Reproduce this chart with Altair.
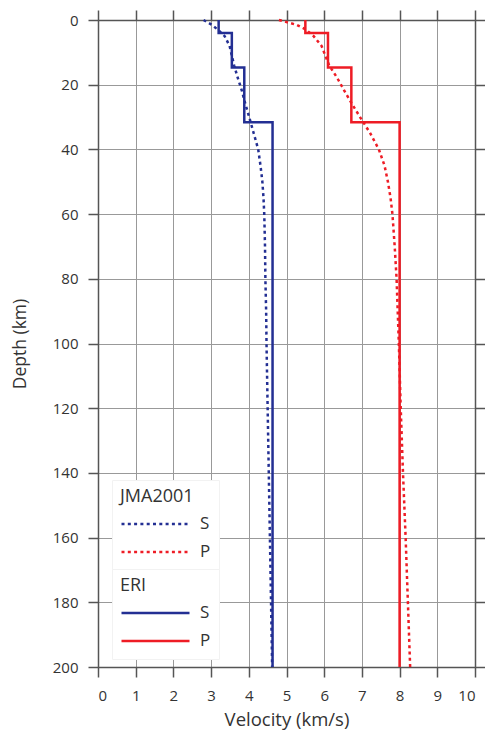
import altair as alt
import pandas as pd

# ---- data ----
jma_depth = [0, 1.5, 3, 5, 8, 11, 14, 18, 22, 26, 30, 35, 40, 45, 50, 55, 60,
             70, 80, 90, 100, 120, 140, 160, 180, 200]
jma_vs = [2.80, 3.02, 3.18, 3.36, 3.49, 3.55, 3.61, 3.71, 3.82, 3.91, 4.01, 4.13,
          4.25, 4.31, 4.36, 4.39, 4.41, 4.43, 4.44, 4.46, 4.47, 4.50, 4.53, 4.56,
          4.59, 4.62]
jma_vp = [4.80, 5.27, 5.52, 5.72, 5.93, 6.03, 6.13, 6.35, 6.54, 6.74, 6.95, 7.22,
          7.45, 7.60, 7.69, 7.76, 7.81, 7.87, 7.92, 7.95, 7.98, 8.03, 8.09, 8.16,
          8.22, 8.28]

eri_bounds = [0, 4, 14.7, 31.6, 200]
eri_vs = [3.2, 3.55, 3.88, 4.63]
eri_vp = [5.5, 6.1, 6.72, 8.0]

wave_order = ["S", "P"]
colors = ["#232f93", "#ee1c25"]

x_ticks = list(range(0, 11))
y_ticks = list(range(0, 201, 20))

# ---- tables ----
jma_rows = []
for w, vals in (("S", jma_vs), ("P", jma_vp)):
    for i, (d, v) in enumerate(zip(jma_depth, vals)):
        jma_rows.append({"wave": w, "depth": d, "velocity": v, "idx": i})
jma = pd.DataFrame(jma_rows)

eri_rows = []
for w, vals in (("S", eri_vs), ("P", eri_vp)):
    k = 0
    for j, v in enumerate(vals):
        for d in (eri_bounds[j], eri_bounds[j + 1]):
            eri_rows.append({"wave": w, "depth": d, "velocity": v, "idx": k})
            k += 1
eri = pd.DataFrame(eri_rows)

FONT = "Open Sans"
AX = dict(domainColor="#555", domainWidth=1.5, tickColor="#555", tickWidth=1.5,
          tickSize=10, labelFont=FONT, labelFontSize=15, labelColor="#333",
          titleFont=FONT, titleFontWeight="normal", titleColor="#333")

xscale = alt.Scale(domain=[0, 10], nice=False, zero=False)
yscale = alt.Scale(domain=[0, 200], reverse=True, nice=False)

def legend(title, dash, ly):
    kw = dict(title=title, orient="none", legendX=14, legendY=ly,
              titleFont=FONT, titleFontSize=18, titleFontWeight="normal",
              titleColor="#333", titlePadding=8,
              labelFont=FONT, labelFontSize=17, labelColor="#333", labelOffset=9,
              symbolType="stroke", symbolSize=4624, symbolStrokeWidth=2.5,
              clipHeight=20, rowPadding=8, padding=8,
              fillColor="white", strokeColor="#f2f2f2")
    if dash:
        kw["symbolDash"] = dash
    return alt.Legend(**kw)

jma_layer = alt.Chart(jma).mark_line(strokeDash=[3, 3.3], strokeWidth=2.5).encode(
    x=alt.X("velocity:Q", scale=xscale,
            axis=alt.Axis(orient="bottom", values=x_ticks, grid=True,
                          gridColor="#999", gridWidth=1, labelPadding=11,
                          title="Velocity (km/s)", titleFontSize=18.5,
                          titlePadding=7, **AX)),
    y=alt.Y("depth:Q", scale=yscale,
            axis=alt.Axis(orient="left", values=y_ticks, grid=True,
                          gridColor="#999", gridWidth=1, labelPadding=10,
                          title="Depth (km)", titleFontSize=17.5,
                          titlePadding=23, **AX)),
    color=alt.Color("wave:N", scale=alt.Scale(domain=wave_order, range=colors),
                    sort=wave_order, legend=legend("JMA2001", [3, 3.3], 460)),
    detail="wave:N",
    order="idx:Q",
)

eri_layer = alt.Chart(eri).mark_line(strokeWidth=2.5).encode(
    x=alt.X("velocity:Q", scale=xscale,
            axis=alt.Axis(orient="top", values=x_ticks, grid=False, labels=False,
                          title=None, **AX)),
    y=alt.Y("depth:Q", scale=yscale,
            axis=alt.Axis(orient="right", values=y_ticks, grid=False, labels=False,
                          title=None, **AX)),
    color=alt.Color("wave:N", scale=alt.Scale(domain=wave_order, range=colors),
                    sort=wave_order, legend=legend("ERI", None, 549)),
    detail="wave:N",
    order="idx:Q",
)

chart = alt.layer(jma_layer, eri_layer).resolve_scale(
    color="independent"
).resolve_axis(
    x="independent", y="independent"
).properties(
    width=377, height=647,
    autosize=alt.AutoSizeParams(type="none"),
    padding={"left": 98, "top": 20, "right": 10, "bottom": 69},
    background="white",
).configure_view(stroke=None)

chart.save("out.html", embed_options={"renderer": "svg", "actions": False})
